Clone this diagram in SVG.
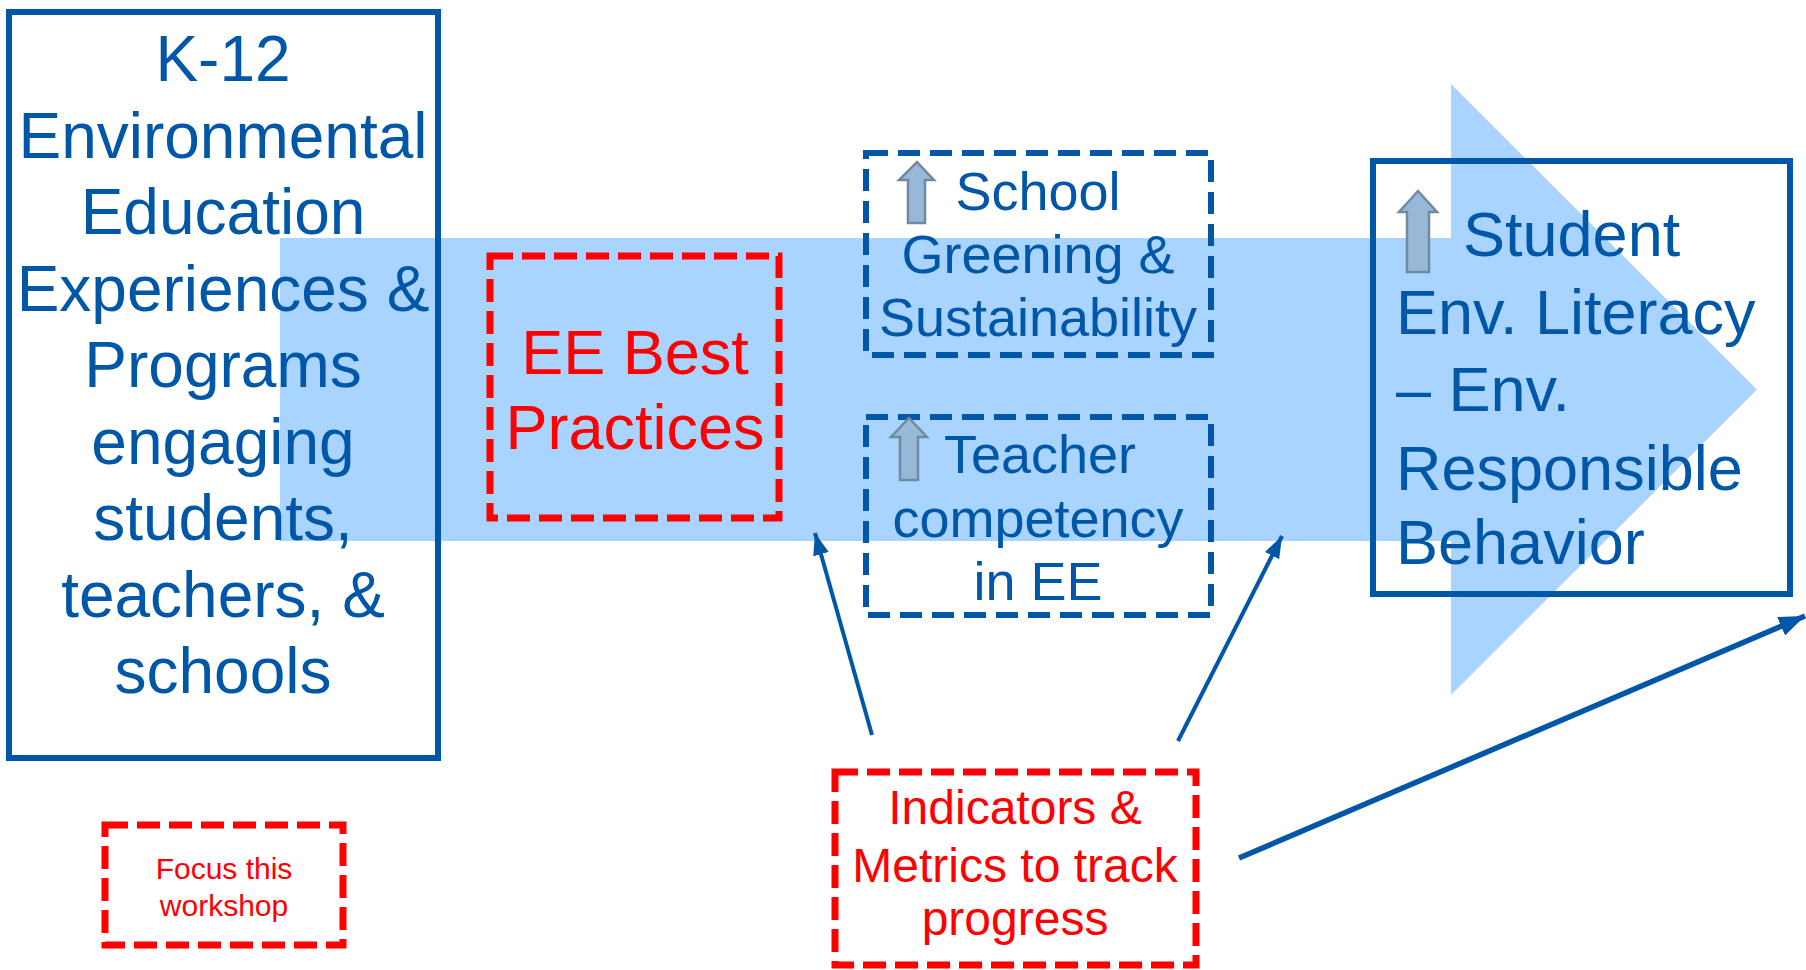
<svg xmlns="http://www.w3.org/2000/svg" width="1806" height="970" viewBox="0 0 1806 970">
<style>
.blue{fill:#0057A8;font-family:"Liberation Sans",Arial,sans-serif}
.red{fill:#FF0000;font-family:"Liberation Sans",Arial,sans-serif}
.solid{fill:none;stroke:#0057A8;stroke-width:6}
.bdash{fill:none;stroke:#0057A8;stroke-width:6;stroke-dasharray:22 10}
.rdash{fill:none;stroke:#FF0000;stroke-width:7;stroke-dasharray:23 9}
.up{fill:#97B8D6;stroke:#708AA0;stroke-width:2.5}
.conn{stroke:#0057A8;fill:none}
</style>
<defs>
<marker id="ah" markerUnits="userSpaceOnUse" markerWidth="24" markerHeight="18" refX="22" refY="8" orient="auto">
<path d="M0,0 L22,8 L0,16 Z" fill="#0057A8"/>
</marker>
<marker id="ah2" markerUnits="userSpaceOnUse" markerWidth="28" markerHeight="22" refX="26" refY="10" orient="auto">
<path d="M0,0 L26,10 L0,20 Z" fill="#0057A8"/>
</marker>
</defs>
<g id="bigarrow">
<polygon points="280,238 1451,238 1451,84 1757,389.5 1451,695 1451,541 280,541" fill="#A8D4FF"/>
</g>
<g id="k12">
<rect class="solid" x="9" y="12" width="429" height="746"/>
<text class="blue" font-size="64" text-anchor="middle"><tspan x="223" y="81">K-12</tspan><tspan x="223" y="157.5">Environmental</tspan><tspan x="223" y="234">Education</tspan><tspan x="223" y="310.5">Experiences &amp;</tspan><tspan x="223" y="387">Programs</tspan><tspan x="223" y="463.5">engaging</tspan><tspan x="223" y="540">students,</tspan><tspan x="223" y="616.5">teachers, &amp;</tspan><tspan x="223" y="693">schools</tspan></text>
</g>
<g id="bestpractices">
<rect class="rdash" x="490" y="256" width="289" height="262"/>
<text class="red" font-size="63" text-anchor="middle"><tspan x="635" y="374">EE Best</tspan><tspan x="635" y="449">Practices</tspan></text>
</g>
<g id="greening">
<rect class="bdash" x="866" y="153" width="345" height="202"/>
<polygon class="up" points="917,162 934,180 925,180 925,223 908,223 908,180 899,180"/>
<text class="blue" font-size="54" text-anchor="middle"><tspan x="1038" y="210">School</tspan><tspan x="1038" y="273">Greening &amp;</tspan><tspan x="1038" y="336">Sustainability</tspan></text>
</g>
<g id="teacher">
<rect class="bdash" x="866" y="417" width="345" height="198"/>
<polygon class="up" points="909,418 927,437 918,437 918,480 900,480 900,437 891,437"/>
<text class="blue" font-size="54" text-anchor="middle"><tspan x="1040" y="473">Teacher</tspan><tspan x="1038" y="537">competency</tspan><tspan x="1038" y="600">in EE</tspan></text>
</g>
<g id="student">
<rect class="solid" x="1373" y="161" width="417" height="433"/>
<polygon class="up" points="1418,191 1437,212 1429,212 1429,272 1407,272 1407,212 1399,212"/>
<text class="blue" font-size="63"><tspan x="1463" y="256">Student</tspan><tspan x="1396" y="334">Env. Literacy</tspan><tspan x="1396" y="411">– Env.</tspan><tspan x="1396" y="490">Responsible</tspan><tspan x="1396" y="564">Behavior</tspan></text>
</g>
<g id="indicators">
<rect class="rdash" x="835" y="772" width="361" height="193"/>
<text class="red" font-size="48" text-anchor="middle"><tspan x="1015" y="824">Indicators &amp;</tspan><tspan x="1015" y="882">Metrics to track</tspan><tspan x="1015" y="935">progress</tspan></text>
</g>
<g id="focus">
<rect class="rdash" x="105" y="825" width="238" height="120"/>
<text class="red" font-size="30" text-anchor="middle"><tspan x="224" y="879">Focus this</tspan><tspan x="224" y="916">workshop</tspan></text>
</g>
<g id="connectors">
<line class="conn" stroke-width="4" x1="872" y1="735" x2="815" y2="533" marker-end="url(#ah)"/>
<line class="conn" stroke-width="4" x1="1178" y1="741" x2="1282" y2="536" marker-end="url(#ah)"/>
<line class="conn" stroke-width="5.5" x1="1239" y1="858" x2="1805" y2="616" marker-end="url(#ah2)"/>
</g>
</svg>
